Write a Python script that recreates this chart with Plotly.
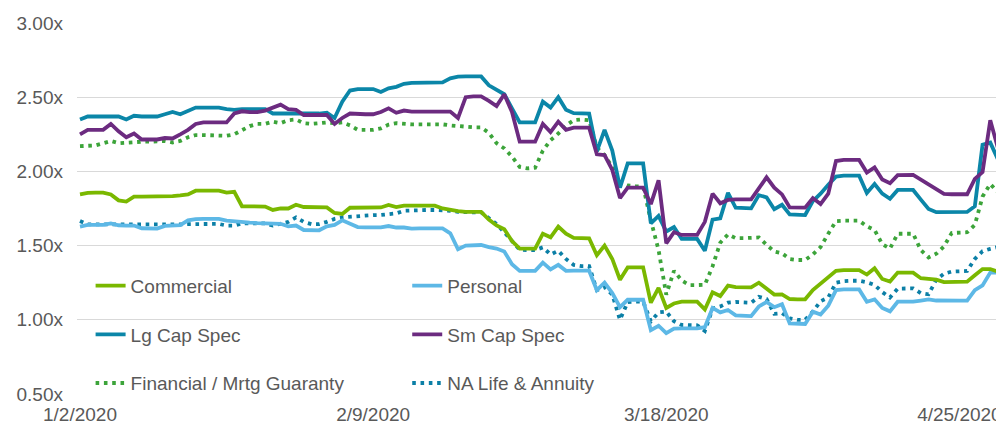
import pandas as pd
import plotly.graph_objects as go

# Daily dates (weekend/holiday values carried forward)
dates = pd.date_range("2020-01-02", "2020-04-30", freq="D")

commercial = [
    1.845, 1.855, 1.857, 1.857, 1.845, 1.805, 1.797, 1.83, 1.83, 1.83,
    1.83, 1.832, 1.833, 1.838, 1.845, 1.87, 1.87, 1.87, 1.87, 1.857,
    1.862, 1.765, 1.763, 1.763, 1.763, 1.74, 1.75, 1.75, 1.775, 1.76,
    1.76, 1.76, 1.757, 1.72, 1.713, 1.755, 1.757, 1.757, 1.757, 1.757,
    1.774, 1.76, 1.77, 1.769, 1.769, 1.769, 1.769, 1.75, 1.74, 1.733,
    1.727, 1.727, 1.727, 1.675, 1.636, 1.61, 1.53, 1.48, 1.48, 1.48,
    1.58, 1.556, 1.628, 1.58, 1.552, 1.549, 1.549, 1.435, 1.50, 1.41,
    1.27, 1.353, 1.353, 1.353, 1.115, 1.215, 1.08, 1.11, 1.122, 1.122,
    1.122, 1.07, 1.185, 1.16, 1.23, 1.22, 1.219, 1.219, 1.25, 1.21,
    1.17, 1.171, 1.14, 1.138, 1.138, 1.20, 1.245, 1.285, 1.33, 1.335,
    1.335, 1.335, 1.305, 1.347, 1.275, 1.258, 1.318, 1.318, 1.318, 1.28,
    1.275, 1.27, 1.254, 1.257, 1.257, 1.257, 1.30, 1.342, 1.342, 1.325,
]

personal = [
    1.628, 1.639, 1.64, 1.64, 1.65, 1.637, 1.635, 1.635, 1.617, 1.615,
    1.615, 1.633, 1.635, 1.638, 1.67, 1.679, 1.68, 1.68, 1.68, 1.668,
    1.662, 1.657, 1.655, 1.652, 1.65, 1.647, 1.647, 1.63, 1.635, 1.605,
    1.603, 1.603, 1.63, 1.64, 1.67, 1.645, 1.625, 1.623, 1.623, 1.623,
    1.632, 1.622, 1.622, 1.615, 1.616, 1.616, 1.616, 1.616, 1.583, 1.475,
    1.50, 1.504, 1.504, 1.49, 1.48, 1.46, 1.375, 1.33, 1.33, 1.33,
    1.385, 1.34, 1.37, 1.33, 1.331, 1.331, 1.331, 1.20, 1.25, 1.18,
    1.085, 1.135, 1.135, 1.135, 0.93, 0.96, 0.91, 0.94, 0.942, 0.942,
    0.942, 0.95, 1.08, 1.05, 1.066, 1.03, 1.025, 1.025, 1.09, 1.12,
    1.085, 1.105, 0.975, 0.972, 0.972, 1.055, 1.035, 1.095, 1.20, 1.205,
    1.205, 1.205, 1.122, 1.138, 1.08, 1.057, 1.122, 1.122, 1.122, 1.13,
    1.138, 1.13, 1.128, 1.129, 1.129, 1.129, 1.20, 1.232, 1.318, 1.318,
]

lg_cap = [
    2.35, 2.37, 2.37, 2.37, 2.37, 2.37, 2.35, 2.375, 2.37, 2.37,
    2.37, 2.385, 2.40, 2.385, 2.41, 2.43, 2.43, 2.43, 2.43, 2.42,
    2.415, 2.42, 2.42, 2.42, 2.42, 2.39, 2.39, 2.387, 2.39, 2.39,
    2.39, 2.39, 2.395, 2.36, 2.47, 2.545, 2.555, 2.555, 2.555, 2.535,
    2.56, 2.57, 2.59, 2.597, 2.598, 2.598, 2.598, 2.60, 2.627, 2.638,
    2.64, 2.64, 2.64, 2.58, 2.55, 2.52, 2.425, 2.33, 2.33, 2.33,
    2.47, 2.43, 2.50, 2.415, 2.392, 2.39, 2.39, 2.135, 2.28, 2.14,
    1.89, 2.054, 2.054, 2.054, 1.65, 1.70, 1.595, 1.625, 1.545, 1.545,
    1.545, 1.465, 1.675, 1.684, 1.855, 1.755, 1.751, 1.751, 1.84, 1.825,
    1.745, 1.775, 1.71, 1.706, 1.706, 1.80, 1.85, 1.91, 1.965, 1.971,
    1.971, 1.971, 1.855, 1.915, 1.85, 1.815, 1.875, 1.875, 1.875, 1.81,
    1.747, 1.725, 1.727, 1.727, 1.727, 1.727, 1.765, 2.18, 2.194, 2.08,
]

sm_cap = [
    2.25, 2.28, 2.28, 2.28, 2.32, 2.27, 2.23, 2.255, 2.215, 2.215,
    2.215, 2.225, 2.222, 2.25, 2.28, 2.32, 2.33, 2.33, 2.33, 2.33,
    2.39, 2.405, 2.40, 2.40, 2.41, 2.43, 2.45, 2.42, 2.415, 2.38,
    2.38, 2.38, 2.38, 2.32, 2.36, 2.39, 2.385, 2.385, 2.385, 2.40,
    2.425, 2.395, 2.41, 2.403, 2.403, 2.403, 2.403, 2.403, 2.403, 2.36,
    2.50, 2.505, 2.505, 2.475, 2.44, 2.52, 2.40, 2.20, 2.20, 2.20,
    2.32, 2.265, 2.335, 2.28, 2.295, 2.295, 2.295, 2.115, 2.11, 2.01,
    1.82, 1.89, 1.89, 1.89, 1.78, 1.94, 1.515, 1.59, 1.572, 1.572,
    1.572, 1.66, 1.85, 1.785, 1.808, 1.812, 1.812, 1.812, 1.885, 1.96,
    1.89, 1.845, 1.757, 1.756, 1.756, 1.82, 1.78, 1.85, 2.07, 2.077,
    2.077, 2.077, 1.992, 2.027, 1.945, 1.92, 1.975, 1.976, 1.976, 1.945,
    1.915, 1.882, 1.848, 1.846, 1.846, 1.846, 1.95, 1.995, 2.345, 2.155,
]

financial = [
    2.17, 2.17, 2.175, 2.19, 2.205, 2.19, 2.195, 2.20, 2.20, 2.20,
    2.20, 2.205, 2.195, 2.205, 2.23, 2.245, 2.245, 2.245, 2.245, 2.24,
    2.25, 2.28, 2.305, 2.32, 2.32, 2.335, 2.325, 2.345, 2.35, 2.325,
    2.32, 2.325, 2.33, 2.325, 2.33, 2.31, 2.28, 2.28, 2.28, 2.29,
    2.315, 2.325, 2.32, 2.317, 2.317, 2.317, 2.317, 2.317, 2.31, 2.305,
    2.30, 2.297, 2.297, 2.26, 2.19, 2.155, 2.10, 2.03, 2.02, 2.025,
    2.14, 2.21, 2.255, 2.31, 2.345, 2.35, 2.345, 2.16, 2.11, 2.03,
    1.92, 1.905, 1.90, 1.897, 1.67, 1.47, 1.17, 1.33, 1.265, 1.234,
    1.234, 1.236, 1.36, 1.52, 1.575, 1.55, 1.55, 1.55, 1.555, 1.505,
    1.46, 1.448, 1.41, 1.403, 1.403, 1.44, 1.49, 1.58, 1.665, 1.668,
    1.668, 1.668, 1.63, 1.605, 1.51, 1.48, 1.58, 1.582, 1.58, 1.47,
    1.42, 1.445, 1.495, 1.585, 1.587, 1.59, 1.64, 1.83, 1.915, 1.86,
]

na_life = [
    1.666, 1.643, 1.643, 1.643, 1.643, 1.637, 1.637, 1.643, 1.643, 1.643,
    1.643, 1.638, 1.637, 1.643, 1.645, 1.646, 1.646, 1.646, 1.646, 1.635,
    1.635, 1.65, 1.65, 1.65, 1.65, 1.635, 1.65, 1.66, 1.69, 1.66,
    1.645, 1.645, 1.66, 1.68, 1.69, 1.695, 1.70, 1.705, 1.706, 1.706,
    1.712, 1.717, 1.735, 1.738, 1.74, 1.74, 1.74, 1.74, 1.735, 1.728,
    1.724, 1.724, 1.724, 1.685, 1.645, 1.59, 1.53, 1.472, 1.47, 1.47,
    1.488, 1.44, 1.465, 1.41, 1.37, 1.362, 1.362, 1.20, 1.22, 1.17,
    1.0, 1.12, 1.122, 1.122, 0.99, 1.05, 1.055, 0.99, 0.965, 0.965,
    0.963, 0.925, 1.075, 1.09, 1.115, 1.12, 1.115, 1.115, 1.155, 1.14,
    1.04, 1.045, 1.01, 1.0, 1.0, 1.055, 1.125, 1.15, 1.25, 1.26,
    1.263, 1.263, 1.253, 1.235, 1.187, 1.15, 1.21, 1.212, 1.212, 1.18,
    1.172, 1.27, 1.31, 1.325, 1.329, 1.329, 1.41, 1.462, 1.478, 1.49,
]

x_tick_dates = ["2020-01-02", "2020-02-09", "2020-03-18", "2020-04-25"]
x_tick_labels = ["1/2/2020", "2/9/2020", "3/18/2020", "4/25/2020"]
y_tick_vals = [0.5, 1.0, 1.5, 2.0, 2.5, 3.0]
y_tick_labels = ["0.50x", "1.00x", "1.50x", "2.00x", "2.50x", "3.00x"]

FONT = "Liberation Sans, Arial, sans-serif"
TXT = "#595959"
LW = 3.8
DOT = "3.6px,4.7px"

series = [
    # name, values, color, dash, legend
    ("Commercial", commercial, "#7AB800", "solid", "legend"),
    ("Lg Cap Spec", lg_cap, "#0B86A8", "solid", "legend"),
    ("Financial / Mrtg Guaranty", financial, "#3CA43A", DOT, "legend"),
    ("Personal", personal, "#5DB8E6", "solid", "legend2"),
    ("Sm Cap Spec", sm_cap, "#6C2B80", "solid", "legend2"),
    ("NA Life & Annuity", na_life, "#0B7FA6", DOT, "legend2"),
]

draw_order = ["Financial / Mrtg Guaranty", "NA Life & Annuity", "Personal",
              "Commercial", "Lg Cap Spec", "Sm Cap Spec"]

fig = go.Figure()
lookup = {s[0]: s for s in series}
names = [s[0] for s in series]
for nm in draw_order:
    name, vals, color, dash, leg = lookup[nm]
    fig.add_trace(go.Scatter(
        x=dates, y=vals, mode="lines", name=name,
        line=dict(color=color, width=LW, dash=dash),
        legend=leg, legendgroup=name, legendrank=names.index(name) + 1,
    ))

legend_common = dict(
    orientation="v", bgcolor="rgba(0,0,0,0)", borderwidth=0,
    font=dict(family=FONT, size=19, color=TXT),
    tracegroupgap=21, yanchor="top", xanchor="left", traceorder="grouped",
)

# The page body has an 8px default margin; the figure is sized so that the
# plot area lands at the reference's position in the 1004x426 window.
fig.update_layout(
    width=996, height=418,
    margin=dict(l=69, r=2, t=15, b=32, autoexpand=False),
    paper_bgcolor="white", plot_bgcolor="white",
    font=dict(family=FONT, size=19, color=TXT),
    showlegend=True,
    legend=dict(x=0.0147, y=0.343, **legend_common),
    legend2=dict(x=0.357, y=0.343, **legend_common),
    xaxis=dict(
        type="date", automargin=False,
        range=["2020-01-01 14:40", "2020-04-30 12:30"],
        tickvals=x_tick_dates, ticktext=x_tick_labels,
        showgrid=False, zeroline=False, showline=False, ticks="",
        ticklabelstandoff=7,
        tickfont=dict(family=FONT, size=19, color=TXT),
    ),
    yaxis=dict(
        range=[0.5, 3.0], automargin=False,
        tickvals=y_tick_vals, ticktext=y_tick_labels,
        showgrid=True, gridcolor="#D9D9D9", gridwidth=1.3,
        zeroline=False, showline=False, ticks="",
        ticklabelstandoff=13,
        tickfont=dict(family=FONT, size=19, color=TXT),
    ),
)

fig.write_html("out.html")
